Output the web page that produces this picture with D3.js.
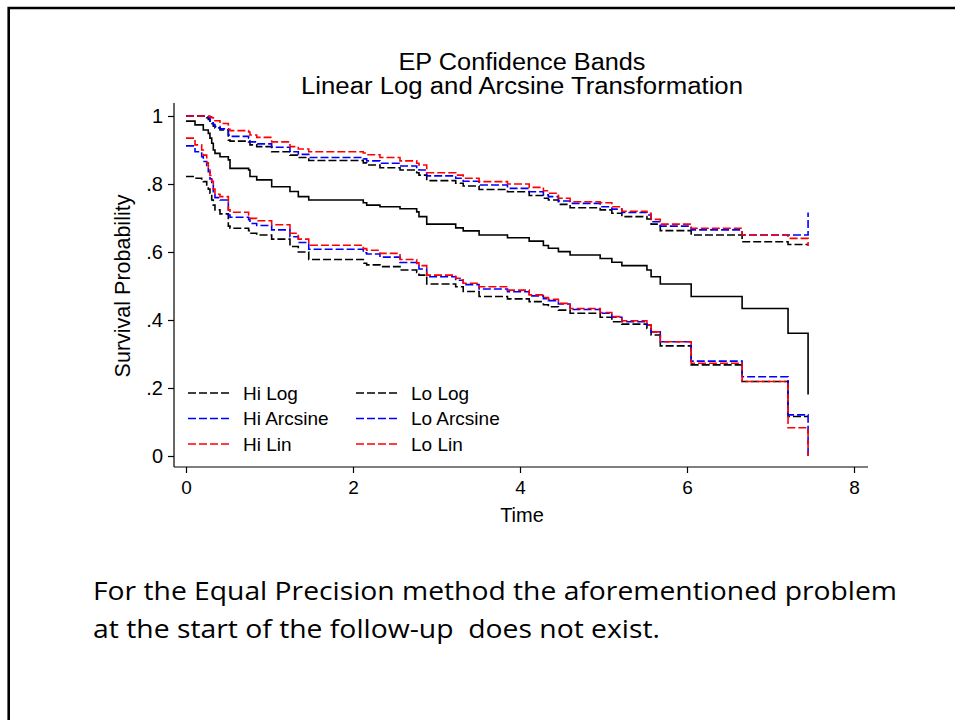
<!DOCTYPE html>
<html>
<head>
<meta charset="utf-8">
<script src="https://cdn.jsdelivr.net/npm/d3@7"></script>
<style>
  html, body { margin: 0; padding: 0; background: #fff; }
  svg { display: block; }
</style>
</head>
<body>
<script>
// ---------------- data ----------------
const times = [0, .108, .188, .207, .248, .267, .287, .308, .327, .347, .407, .507, .527, .75, .766, .847,
  1.026, 1.245, 1.345, 1.47, 2.123, 2.164, 2.323, 2.563, 2.763, 2.79, 2.883, 3.23, 3.32, 3.51, 3.85,
  4.11, 4.28, 4.34, 4.46, 4.60, 4.96, 5.10, 5.22, 5.52, 5.57, 5.68, 6.05, 6.66, 7.21, 7.45];

const survival = [.985, .974, .974, .959, .959, .949, .935, .920, .900, .890, .880, .871, .846, .841, .822, .812,
  .792, .778, .763, .753, .745, .738, .733, .727, .718, .704, .682, .671, .662, .650, .642,
  .632, .619, .611, .601, .591, .581, .570, .560, .547, .527, .506, .469, .434, .361, .181];

const hiLog = [1, 1, 1, 1, .995, .99, .985, .978, .97, .965, .959, .929, .926, .924, .915, .91,
  .895, .885, .878, .869, .862, .856, .848, .841, .833, .826, .81, .802, .794, .784, .777,
  .766, .758, .753, .74, .73, .724, .714, .704, .697, .682, .663, .65, .63, .622, .622];

const hiArcsine = [1, 1, 1, 1, .998, .995, .985, .98, .975, .969, .962, .944, .940, .935, .924, .918,
  .908, .895, .887, .878, .874, .868, .861, .853, .846, .841, .824, .817, .808, .797, .787,
  .777, .768, .763, .750, .743, .733, .726, .716, .709, .689, .676, .665, .650, .650, .716];

const hiLin = [1, 1, 1, 1, 1, 1, .998, .995, .99, .986, .978, .961, .957, .953, .944, .937,
  .924, .910, .903, .895, .891, .886, .878, .868, .861, .856, .833, .826, .817, .807, .800,
  .790, .780, .773, .758, .748, .745, .733, .720, .714, .696, .682, .670, .650, .640, .618];

const loLog = [.822, .817, .812, .807, .797, .785, .773, .753, .738, .724, .712, .676, .670, .663, .655, .650,
  .638, .616, .600, .578, .567, .562, .557, .547, .540, .532, .506, .498, .484, .469, .462,
  .454, .445, .439, .429, .420, .408, .395, .388, .375, .356, .324, .268, .219, .116, .116];

const loArcsine = [.912, .895, .880, .866, .850, .836, .815, .800, .773, .760, .753, .709, .702, .695, .684, .678,
  .665, .645, .628, .608, .598, .594, .585, .569, .560, .550, .527, .517, .504, .491, .483,
  .471, .463, .457, .447, .431, .420, .408, .395, .385, .365, .336, .279, .233, .121, 0];

const loLin = [.935, .915, .900, .885, .862, .845, .825, .808, .785, .770, .763, .724, .717, .709, .699, .692,
  .680, .655, .638, .620, .610, .605, .596, .578, .568, .560, .532, .523, .508, .498, .488,
  .474, .466, .461, .449, .434, .422, .410, .398, .385, .365, .336, .273, .219, .083, 0];

const xTickValues = [0, 2, 4, 6, 8];
const yTickValues = [0, .2, .4, .6, .8, 1];
const yTickLabels = ["0", ".2", ".4", ".6", ".8", "1"];

const titleLines = ["EP Confidence Bands", "Linear Log and Arcsine Transformation"];
const xTitle = "Time";
const yTitle = "Survival Probability";
const noteLines = ["For the Equal Precision method the aforementioned problem",
                   "at the start of the follow-up  does not exist."];

const legendCols = [
  [{label: "Hi Log", key: "hiLog"}, {label: "Hi Arcsine", key: "hiArcsine"}, {label: "Hi Lin", key: "hiLin"}],
  [{label: "Lo Log", key: "loLog"}, {label: "Lo Arcsine", key: "loArcsine"}, {label: "Lo Lin", key: "loLin"}]
];

// ---------------- layout / style ----------------
const W = 955, H = 720;
const FONT = "'Liberation Sans', Arial, sans-serif";
const NOTE_FONT = "'Open Sans', 'Noto Sans', sans-serif";
const colors = {hiLog: "#000", loLog: "#000", hiArcsine: "#0000ff", loArcsine: "#0000ff", hiLin: "#ff0000", loLin: "#ff0000"};
const seriesData = {hiLog, hiArcsine, hiLin, loLog, loArcsine, loLin};
const drawOrder = ["hiLog", "loLog", "hiArcsine", "loArcsine", "hiLin", "loLin"];
const dash = "8,3";

const svg = d3.select("body").append("svg").attr("width", W).attr("height", H)
  .style("font-family", FONT);

// slide frame (top and left edges)
svg.append("path").attr("d", `M8.7,${H} V8 H${W}`)
  .attr("fill", "none").attr("stroke", "#000").attr("stroke-width", 2.6);

const x = d3.scaleLinear().domain([0, 8]).range([186, 854]);
const y = d3.scaleLinear().domain([0, 1]).range([456, 116]);

const axisLeftX = 174, axisBottomY = 467, axisTopY = 103, axisRightX = 868;

// axes lines
svg.append("line").attr("x1", axisLeftX).attr("x2", axisLeftX).attr("y1", axisTopY).attr("y2", axisBottomY)
  .attr("stroke", "#000").attr("stroke-width", 1.2);
svg.append("line").attr("x1", axisLeftX).attr("x2", axisRightX).attr("y1", axisBottomY).attr("y2", axisBottomY)
  .attr("stroke", "#000").attr("stroke-width", 1.2);

// y axis ticks
const yAxis = d3.axisLeft(y).tickValues(yTickValues).tickSize(6).tickPadding(5)
  .tickFormat((d, i) => yTickLabels[i]);
const gy = svg.append("g").attr("transform", `translate(${axisLeftX},0)`).call(yAxis);
gy.select(".domain").remove();
gy.selectAll(".tick line").attr("stroke", "#000").attr("stroke-width", 1.2);
gy.selectAll(".tick text").style("font-size", "20px").style("font-family", FONT).attr("fill", "#000");

// x axis ticks
const xAxis = d3.axisBottom(x).tickValues(xTickValues).tickSize(6).tickPadding(8).tickFormat(d3.format("d"));
const gx = svg.append("g").attr("transform", `translate(0,${axisBottomY})`).call(xAxis);
gx.select(".domain").remove();
gx.selectAll(".tick line").attr("stroke", "#000").attr("stroke-width", 1.2);
gx.selectAll(".tick text").style("font-size", "19px").style("font-family", FONT).attr("fill", "#000");

// axis titles
svg.append("text").attr("x", 522).attr("y", 522).attr("text-anchor", "middle")
  .style("font-size", "20px").text(xTitle);
svg.append("text").attr("transform", "translate(130,286) rotate(-90)").attr("text-anchor", "middle")
  .style("font-size", "21.5px").text(yTitle);

// title (two lines, widths matched to the reference)
const titleWidths = [247, 442];
svg.selectAll(".title").data(titleLines).enter().append("text")
  .attr("class", "title").attr("x", 522).attr("y", (d, i) => 70 + i * 24)
  .attr("text-anchor", "middle").style("font-size", "23px")
  .attr("textLength", (d, i) => titleWidths[i]).attr("lengthAdjust", "spacingAndGlyphs")
  .text(d => d);

// lines
const line = d3.line().x(d => x(d[0])).y(d => y(d[1])).curve(d3.curveStepAfter);
const toPts = vals => times.map((t, i) => [t, vals[i]]);

const plot = svg.append("g");
plot.append("path").datum(toPts(survival)).attr("d", line)
  .attr("fill", "none").attr("stroke", "#000").attr("stroke-width", 1.6);

drawOrder.forEach(k => {
  plot.append("path").datum(toPts(seriesData[k])).attr("d", line)
    .attr("fill", "none").attr("stroke", colors[k]).attr("stroke-width", 1.6)
    .attr("stroke-dasharray", dash);
});

// legend
const legColX = [188, 356];
const legRowY = [393, 418.5, 444];
legendCols.forEach((col, ci) => {
  col.forEach((item, ri) => {
    const g = svg.append("g");
    g.append("line").attr("x1", legColX[ci]).attr("x2", legColX[ci] + 41)
      .attr("y1", legRowY[ri]).attr("y2", legRowY[ri])
      .attr("stroke", colors[item.key]).attr("stroke-width", 1.6).attr("stroke-dasharray", dash);
    g.append("text").attr("x", legColX[ci] + 55).attr("y", legRowY[ri]).attr("dy", "0.35em")
      .style("font-size", "19px").text(item.label);
  });
});

// note text under chart
const noteWidths = [804, 567];
svg.selectAll(".note").data(noteLines).enter().append("text")
  .attr("class", "note").attr("x", 93).attr("y", (d, i) => 600 + i * 38)
  .attr("textLength", (d, i) => noteWidths[i]).attr("lengthAdjust", "spacingAndGlyphs")
  .style("font-family", NOTE_FONT).style("font-size", "26px")
  .style("white-space", "pre").text(d => d);
</script>
</body>
</html>
